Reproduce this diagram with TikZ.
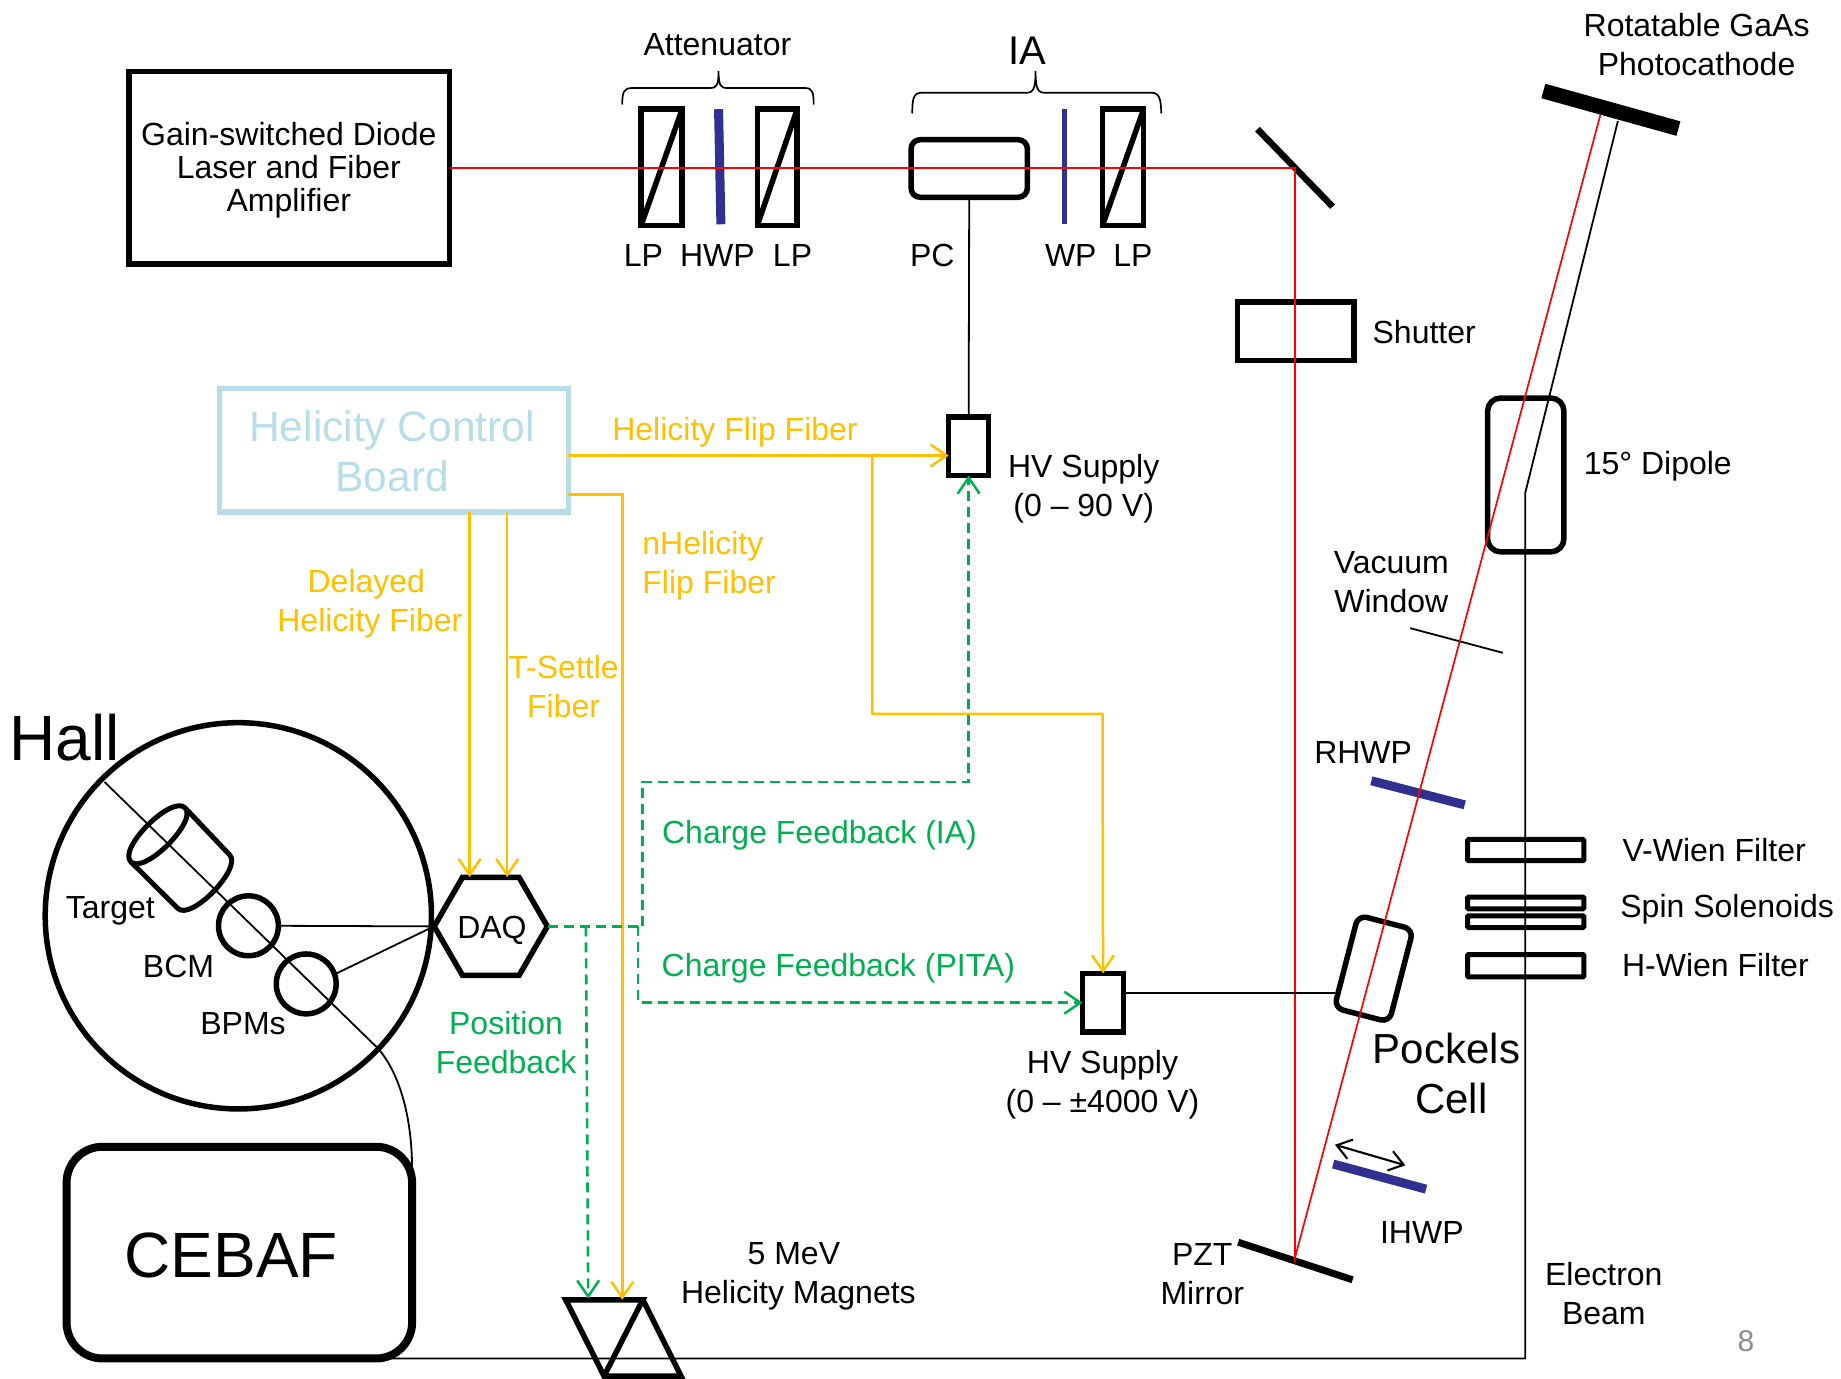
\documentclass[tikz,border=0pt]{standalone}
\usepackage{fontspec}
\setmainfont{Liberation Sans}
\usetikzlibrary{arrows.meta,shapes.geometric}
\definecolor{fibre}{HTML}{FFC000}
\definecolor{fback}{HTML}{00B050}
\definecolor{plate}{HTML}{303090}
\definecolor{hcb}{HTML}{B7DEE8}
\definecolor{pagegray}{HTML}{8C8C8C}
\tikzset{
  lbl/.style={font=\fontsize{32}{38.7}\selectfont,align=center,inner sep=0pt},
  biglbl/.style={font=\fontsize{42}{50}\selectfont,align=center,inner sep=0pt},
  hugelbl/.style={font=\fontsize{64}{70}\selectfont,align=center,inner sep=0pt},
  flbl/.style={lbl,text=fibre},
  glbl/.style={lbl,text=fback},
  box/.style={draw=black,line width=5.5pt},
  rbox/.style={box,rounded corners=#1},
  thinl/.style={black,line width=1.8pt},
  bracel/.style={black,line width=1.7pt},
  beam/.style={red,line width=1.7pt},
  fib/.style={fibre,line width=2.5pt,-{Straight Barb[length=16pt,width=22pt,line width=2.5pt]}},
  gfb/.style={fback,line width=2.6pt,dash pattern=on 10pt off 6pt,-{Straight Barb[length=16pt,width=22pt,line width=2.5pt]}},
  gfbn/.style={fback,line width=2.6pt,dash pattern=on 10pt off 6pt},
  platel/.style={plate,line width=9pt},
  mirrorl/.style={black,line width=7pt},
}
\newcommand{\bx}[6]{%
  \pgfmathsetmacro\ww{(#5-#3)*1.1741}%
  \pgfmathsetmacro\hh{(#6-#4)*1.1741}%
  \node[#1,name=#2,minimum width=\ww pt,minimum height=\hh pt,inner sep=0pt,outer sep=0pt] at ({(#3+#5)/2},{(#4+#6)/2}) {};}
\begin{document}
\begin{tikzpicture}[x=1.1741pt,y=-1.1741pt]
\useasboundingbox (0,0) rectangle (1568,1174);
% ---- laser and optics
\bx{box}{laser}{110}{61}{383}{225}
\node[lbl,font=\fontsize{32}{33}\selectfont] (lasert) at (246,145) {Gain-switched Diode\\Laser and Fiber\\Amplifier};
\bx{box}{lpa}{546}{93}{581}{192}
\bx{box}{lpb}{645}{93}{679}{192}
\bx{box}{lpc}{939}{93}{974}{192}
\draw[box] (lpa.south west) -- (lpa.north east);
\draw[box] (lpb.south west) -- (lpb.north east);
\draw[box] (lpc.south west) -- (lpc.north east);
\bx{rbox=9pt}{pc}{776}{119}{875}{168}
\coordinate (hwpt) at (612,93); \coordinate (hwpb) at (614,191);
\coordinate (wpt) at (907,93); \coordinate (wpb) at (907,191);
\draw[plate,line width=9pt] (hwpt) -- (hwpb);
\draw[plate,line width=5pt] (wpt) -- (wpb);
\coordinate (ma) at (1071,110); \coordinate (mb) at (1135,176);
\draw[black,line width=6.5pt] (ma) -- (mb);
\bx{box}{shutter}{1054}{257}{1153}{307}
\coordinate (cathl) at (1314.5,77.5); \coordinate (cathr) at (1429.5,109.5);
\draw[black,line width=15pt] (cathl) -- (cathr);
\bx{rbox=13pt}{dipole}{1267}{339}{1332}{470}
% braces
\draw[bracel] (530,89) .. controls (530,79) and (531,75) .. (538,75) -- (605,75) .. controls (610,75) and (612,73) .. (612,60.5) .. controls (612,73) and (614,75) .. (619,75) -- (686,75) .. controls (692,75) and (693,79) .. (693,89);
\draw[bracel] (777,96.5) .. controls (777,84) and (778,79) .. (785,79) -- (874,79) .. controls (880,79) and (882,76) .. (882,60.5) .. controls (882,76) and (884,79) .. (890,79) -- (981,79) .. controls (987,79) and (989,84) .. (989,96.5);
% ---- electron beam and its elements
\coordinate (ebtop) at (1378,103);
\coordinate (ebbend) at (1299,420);
\coordinate (ebcorner) at (1299,1157);
\coordinate (ebend) at (332,1157);
\draw[thinl] (ebtop) -- (ebbend) -- (ebcorner) -- (ebend);
\bx{draw=black,line width=5pt,rounded corners=1pt}{vwien}{1250}{715}{1349}{733}
\bx{draw=black,line width=5pt,rounded corners=1pt}{sola}{1250}{764}{1349}{774}
\bx{draw=black,line width=5pt,rounded corners=1pt}{solb}{1250}{780}{1349}{790}
\bx{draw=black,line width=5pt,rounded corners=1pt}{hwien}{1250}{813}{1349}{832}
% Pockels cell
\pgfmathsetmacro\pcw{48.4*1.1741}\pgfmathsetmacro\pch{81.5*1.1741}
\node[rbox=9pt,rotate=-14.5,minimum width=\pcw pt,minimum height=\pch pt,inner sep=0pt,outer sep=0pt] (pockels) at (1170,825) {};
\coordinate (rhwpa) at (1168,665); \coordinate (rhwpb) at (1247.5,685.5);
\draw[platel] (rhwpa) -- (rhwpb);
\coordinate (ihwpa) at (1135.5,991.4); \coordinate (ihwpb) at (1214.6,1012.8);
\draw[platel] (ihwpa) -- (ihwpb);
\coordinate (arra) at (1137,975); \coordinate (arrb) at (1197,992.5);
\draw[black,line width=2.1pt,{Straight Barb[length=14pt,width=20pt,line width=2.1pt]}-{Straight Barb[length=14pt,width=20pt,line width=2.1pt]}] (arra) -- (arrb);
\coordinate (pzta) at (1054.6,1058); \coordinate (pztb) at (1152,1090);
\draw[mirrorl] (pzta) -- (pztb);
\coordinate (vwa) at (1201,535); \coordinate (vwb) at (1280,556);
\draw[thinl] (vwa) -- (vwb);
% red beam
\coordinate (beamm) at (1103,143);
\coordinate (beamp) at (1103,1071);
\coordinate (beamc) at (1363,98);
\draw[beam] (laser.east |- beamm) -- (beamm) -- (beamp) -- (beamc);
% ---- HV supplies
\bx{box}{hva}{808}{355}{842}{405}
\bx{box}{hvb}{922}{829}{957}{879}
\draw[thinl] (pc.south) -- (hva.north);
\coordinate (pcleft) at (1138,846);
\draw[thinl] (hvb.east |- pcleft) -- (pcleft);
% ---- Helicity board
\bx{draw=hcb,line width=5.5pt}{board}{187}{331}{484}{436}
\node[biglbl,text=hcb,font=\fontsize{42.5}{50}\selectfont] (boardt) at (334,384) {Helicity Control\\Board};
% ---- hall
\pgfmathsetmacro\hallsize{329*1.1741}
\node[circle,draw=black,line width=5.5pt,minimum size=\hallsize pt,inner sep=0pt,outer sep=0pt] (hall) at (203,780) {};
\pgfmathsetmacro\detsize{51*1.1741}
\node[circle,draw=black,line width=5.5pt,minimum size=\detsize pt,inner sep=0pt,outer sep=0pt] (bcm) at (211.6,788.5) {};
\node[circle,draw=black,line width=5.5pt,minimum size=\detsize pt,inner sep=0pt,outer sep=0pt] (bpm) at (260.8,838) {};
\bx{draw=black,line width=8pt,rounded corners=36pt}{cebaf}{56.7}{976.7}{351}{1157}
\node[hugelbl] (cebaft) at (197,1069) {CEBAF};
\coordinate (hbeama) at (89,666);
\coordinate (hbeamb) at (321,892);
\coordinate (hbeamc) at (351,997);
\draw[thinl] (hbeama) -- (hbeamb) .. controls (332,903.5) and (351,935) .. (hbeamc);
% target
\draw[black,line width=5pt,line join=round]
  (157.6,688) -- (195.5,728) .. controls (206.8,739.3) and (162.6,784.9) .. (151.3,773.6) -- (111.4,734)
  .. controls (100.1,722.7) and (146.3,676.7) .. (157.6,688)
  .. controls (168.9,699.3) and (122.7,745.3) .. (111.4,734);
% DAQ
\pgfmathsetmacro\daqsize{96.4*1.1741}
\node[regular polygon,regular polygon sides=6,draw=black,line width=5.5pt,minimum size=\daqsize pt,inner sep=0pt,outer sep=0pt] (daq) at (418,789) {};
\node[lbl] (daqt) at (419,792) {DAQ};
\coordinate (daqw) at (369.6,789);
\draw[thinl] (bcm.east) -- (daqw);
\coordinate (bpmo) at (286.7,829);
\draw[thinl] (bpmo) -- (daqw);
% magnets
\coordinate (ta) at (481.8,1107); \coordinate (tb) at (547.5,1107); \coordinate (tc) at (514.5,1172); \coordinate (td) at (580,1172);
\draw[black,line width=5.5pt,line join=miter] (ta) -- (tb) -- (tc) -- cycle;
\draw[black,line width=5.5pt,line join=miter] (tb) -- (td) -- (tc);
% ---- fibres
\coordinate (ffa) at (484,388);
\coordinate (ffb) at (743,388);
\coordinate (ffc) at (743,608);
\coordinate (ffd) at (939,608);
\draw[fib] (ffa) -- (hva.west |- ffa);
\draw[fib] (ffb) -- (ffc) -- (ffd) -- (hvb.north);
\coordinate (nha) at (484,421);
\coordinate (nhb) at (530,421);
\coordinate (nhc) at (530,1107);
\draw[fib] (nha) -- (nhb) -- (nhc);
\coordinate (dla) at (400,436); \coordinate (dlb) at (400,747);
\coordinate (tsa) at (432,436); \coordinate (tsb) at (432,747);
\draw[fib] (dla) -- (dlb);
\draw[fib] (tsa) -- (tsb);
% ---- feedback
\coordinate (ga) at (467,789);
\coordinate (gb) at (543.5,789);
\coordinate (gc) at (543.5,854);
\coordinate (gd) at (547,789);
\coordinate (ge) at (547,666);
\coordinate (gf) at (825,666);
\coordinate (gh) at (499,789);
\coordinate (gi) at (501,1106);
\draw[gfbn] (ga) -- (gb);
\draw[gfb] (gb) -- (gc) -- (hvb.west |- gc);
\draw[gfb] (gd) -- (ge) -- (gf) -- (hva.south);
\draw[gfb] (gh) -- (gi);
% ---- labels
\node[lbl] (tatt) at (611,38) {Attenuator};
\node[biglbl,font=\fontsize{40}{44}\selectfont] (tia) at (875,43) {IA};
\node[lbl] (tlpa) at (548,218) {LP};
\node[lbl] (thwp) at (611,218) {HWP};
\node[lbl] (tlpb) at (675,218) {LP};
\node[lbl] (tpc) at (794,218) {PC};
\node[lbl] (twp) at (912,218) {WP};
\node[lbl] (tlpc) at (965,218) {LP};
\node[lbl] (tcath) at (1445,38) {Rotatable GaAs\\Photocathode};
\node[lbl] (tshut) at (1213,283) {Shutter};
\node[lbl] (tdip) at (1412,397) {15° Dipole};
\node[lbl] (tvw) at (1185,496) {Vacuum\\Window};
\node[lbl] (trhwp) at (1161,641) {RHWP};
\node[lbl] (tvwien) at (1460,724) {V-Wien Filter};
\node[lbl] (tsol) at (1471,774) {Spin Solenoids};
\node[lbl] (thwien) at (1461,822) {H-Wien Filter};
\node[biglbl] (tpock) at (1232,893) {Pockels};
\node[biglbl] (tcell) at (1236,936) {Cell};
\node[lbl] (tihwp) at (1211,1050) {IHWP};
\node[lbl] (tpzt) at (1024,1085) {PZT\\Mirror};
\node[lbl] (tebeam) at (1366,1102) {Electron\\Beam};
\node[lbl,text=pagegray,font=\fontsize{30}{36}\selectfont] (tpage) at (1487,1142) {8};
\node[lbl] (thva) at (923,416) {HV Supply\\(0 – 90 V)};
\node[lbl] (thvb) at (939,924) {HV Supply\\(0 – ±4000 V)};
\node[lbl] (tmag) at (680,1087) {\hspace*{-9pt}5 MeV\\Helicity Magnets};
\node[flbl] (tflip) at (626,368) {Helicity Flip Fiber};
\node[flbl,align=left,anchor=west] (tnh) at (547,482) {nHelicity\\Flip Fiber};
\node[flbl] (tdel) at (315,514) {\hspace*{-7pt}Delayed\\Helicity Fiber};
\node[flbl] (tts) at (480,585) {T-Settle\\Fiber};
\node[glbl] (tcia) at (698,711) {Charge Feedback (IA)};
\node[glbl] (tcpi) at (714,825) {Charge Feedback (PITA)};
\node[glbl] (tpos) at (431,888) {Position\\Feedback};
\node[lbl,font=\fontsize{64}{66}\selectfont] (thall) at (55,628) {Hall};
\node[lbl] (ttgt) at (94,776) {Target};
\node[lbl] (tbcm) at (152,823) {BCM};
\node[lbl] (tbpm) at (207,872) {BPMs};
\end{tikzpicture}
\end{document}
